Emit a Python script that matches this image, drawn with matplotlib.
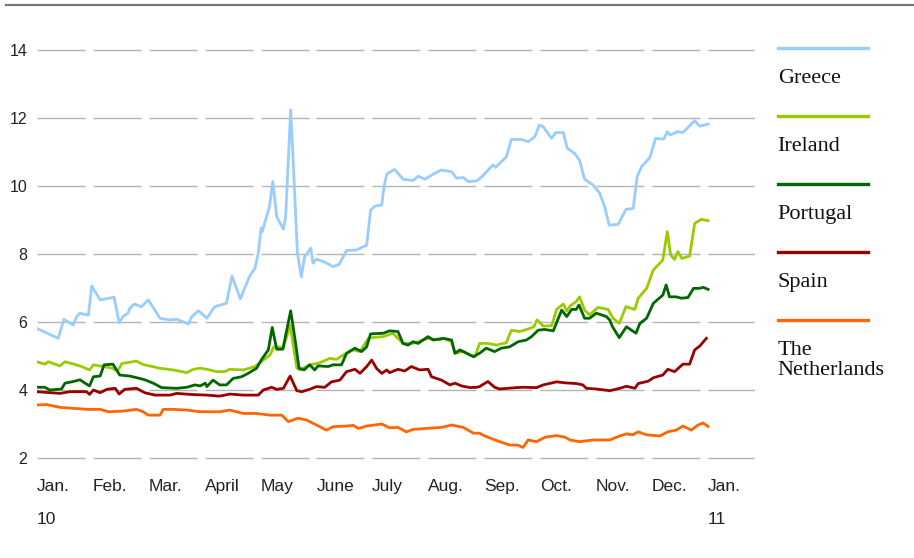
import matplotlib.pyplot as plt
from matplotlib.lines import Line2D

# x positions are fractional months since 1 Jan 2010, values are yields in %
greece_x = [0.00, 0.38, 0.48, 0.65, 0.71, 0.77, 0.92, 0.98, 1.13, 1.23, 1.38, 1.47, 1.54, 1.63, 1.66, 1.74,
            1.87, 1.99, 2.09, 2.20, 2.38, 2.50, 2.58, 2.71, 2.77, 2.89, 2.98, 3.04, 3.18, 3.39, 3.49, 3.64,
            3.80, 3.90, 3.96, 4.01, 4.03, 4.16, 4.22, 4.29, 4.41, 4.45, 4.54, 4.59, 4.66, 4.73, 4.79, 4.90,
            4.94, 5.00, 5.15, 5.30, 5.41, 5.54, 5.72, 5.90, 5.97, 6.05, 6.17, 6.21, 6.26, 6.40, 6.55, 6.73,
            6.82, 6.94, 7.03, 7.23, 7.42, 7.51, 7.63, 7.72, 7.87, 7.96, 8.16, 8.21, 8.40, 8.49, 8.67, 8.79,
            8.91, 8.99, 9.06, 9.21, 9.28, 9.42, 9.49, 9.62, 9.71, 9.80, 9.95, 10.07, 10.16, 10.24, 10.40,
            10.54, 10.67, 10.74, 10.82, 10.97, 11.07, 11.22, 11.28, 11.33, 11.47, 11.56, 11.77, 11.86, 12.01]
greece_y = [5.81, 5.52, 6.08, 5.91, 6.16, 6.26, 6.20, 7.06, 6.65, 6.68, 6.73, 5.98, 6.16, 6.26, 6.40, 6.53,
            6.45, 6.65, 6.40, 6.11, 6.06, 6.08, 6.03, 5.94, 6.16, 6.33, 6.20, 6.11, 6.45, 6.55, 7.35, 6.68,
            7.33, 7.58, 8.02, 8.76, 8.66, 9.39, 10.13, 9.10, 8.73, 9.10, 12.24, 10.57, 8.02, 7.33, 7.92, 8.17,
            7.73, 7.85, 7.76, 7.63, 7.70, 8.10, 8.12, 8.26, 9.29, 9.41, 9.44, 9.98, 10.35, 10.49, 10.20, 10.16,
            10.29, 10.20, 10.29, 10.47, 10.42, 10.23, 10.25, 10.13, 10.15, 10.27, 10.62, 10.55, 10.86, 11.37,
            11.37, 11.30, 11.45, 11.79, 11.74, 11.40, 11.57, 11.57, 11.11, 10.96, 10.76, 10.20, 10.03, 9.79,
            9.39, 8.85, 8.87, 9.31, 9.34, 10.27, 10.57, 10.84, 11.40, 11.38, 11.60, 11.50, 11.60, 11.57,
            11.92, 11.76, 11.82]

ireland_x = [0.00, 0.14, 0.20, 0.41, 0.50, 0.62, 0.80, 0.94, 1.01, 1.19, 1.35, 1.44, 1.52, 1.78, 1.90, 2.20,
             2.44, 2.68, 2.80, 2.92, 3.04, 3.21, 3.36, 3.45, 3.69, 3.90, 4.05, 4.17, 4.24, 4.41, 4.53, 4.65,
             4.70, 4.88, 5.06, 5.24, 5.36, 5.48, 5.66, 5.78, 5.93, 6.05, 6.20, 6.37, 6.55, 6.73, 7.00, 7.21,
             7.27, 7.42, 7.48, 7.63, 7.75, 7.84, 7.92, 8.07, 8.22, 8.40, 8.49, 8.64, 8.82, 8.89, 8.95, 9.06,
             9.21, 9.30, 9.42, 9.48, 9.54, 9.65, 9.71, 9.80, 9.89, 10.04, 10.22, 10.31, 10.42, 10.54, 10.70,
             10.76, 10.91, 11.03, 11.20, 11.28, 11.34, 11.41, 11.47, 11.54, 11.68, 11.77, 11.89, 12.01]
ireland_y = [4.83, 4.76, 4.83, 4.71, 4.83, 4.78, 4.69, 4.59, 4.74, 4.69, 4.64, 4.55, 4.78, 4.85, 4.75, 4.64,
             4.59, 4.51, 4.61, 4.64, 4.61, 4.54, 4.54, 4.61, 4.59, 4.69, 4.88, 5.03, 5.27, 5.25, 5.91, 4.65,
             4.59, 4.74, 4.80, 4.93, 4.90, 5.03, 5.18, 5.13, 5.52, 5.55, 5.57, 5.67, 5.37, 5.37, 5.52, 5.47,
             5.52, 5.42, 5.08, 5.13, 5.03, 4.98, 5.37, 5.37, 5.32, 5.39, 5.76, 5.72, 5.81, 5.86, 6.06, 5.88,
             5.89, 6.37, 6.53, 6.32, 6.47, 6.60, 6.74, 6.35, 6.21, 6.43, 6.37, 6.11, 5.96, 6.45, 6.37,
             6.70, 6.99, 7.53, 7.82, 8.66, 7.97, 7.84, 8.07, 7.87, 7.94, 8.90, 9.02, 8.98]

portugal_x = [0.00, 0.14, 0.23, 0.44, 0.50, 0.65, 0.77, 0.86, 0.94, 1.01, 1.13, 1.20, 1.36, 1.48, 1.66, 1.84,
              1.93, 2.08, 2.23, 2.50, 2.68, 2.83, 2.92, 3.01, 3.04, 3.15, 3.27, 3.39, 3.51, 3.66, 3.78, 3.93,
              4.02, 4.14, 4.21, 4.29, 4.40, 4.54, 4.62, 4.69, 4.78, 4.88, 4.97, 5.03, 5.21, 5.30, 5.45, 5.54,
              5.69, 5.81, 5.90, 5.97, 6.20, 6.31, 6.46, 6.55, 6.64, 6.73, 6.82, 7.00, 7.09, 7.27, 7.42, 7.48,
              7.57, 7.69, 7.81, 7.92, 8.04, 8.19, 8.31, 8.46, 8.61, 8.76, 8.85, 8.97, 9.09, 9.24, 9.39, 9.48,
              9.57, 9.65, 9.70, 9.80, 9.89, 10.01, 10.19, 10.25, 10.30, 10.42, 10.55, 10.72, 10.79, 10.91,
              11.03, 11.20, 11.26, 11.32, 11.44, 11.53, 11.65, 11.75, 11.86, 11.92, 12.01]
portugal_y = [4.08, 4.08, 4.00, 4.03, 4.20, 4.25, 4.30, 4.20, 4.12, 4.39, 4.41, 4.74, 4.76, 4.44, 4.41, 4.34,
              4.30, 4.20, 4.07, 4.05, 4.08, 4.15, 4.12, 4.20, 4.10, 4.29, 4.15, 4.15, 4.34, 4.39, 4.49, 4.64,
              4.90, 5.18, 5.84, 5.20, 5.20, 6.33, 5.47, 4.64, 4.59, 4.74, 4.59, 4.71, 4.69, 4.74, 4.74, 5.08,
              5.23, 5.13, 5.27, 5.65, 5.67, 5.74, 5.72, 5.37, 5.32, 5.42, 5.37, 5.57, 5.47, 5.52, 5.47, 5.08,
              5.18, 5.08, 4.98, 5.08, 5.23, 5.13, 5.23, 5.27, 5.42, 5.47, 5.57, 5.76, 5.78, 5.74, 6.35, 6.16,
              6.37, 6.37, 6.50, 6.11, 6.11, 6.26, 6.16, 6.06, 5.86, 5.54, 5.86, 5.67, 5.96, 6.11,
              6.55, 6.79, 7.09, 6.74, 6.74, 6.70, 6.72, 6.99, 6.99, 7.02, 6.96]

spain_x = [0.00, 0.41, 0.59, 0.89, 0.94, 1.01, 1.13, 1.25, 1.40, 1.47, 1.57, 1.78, 1.93, 2.11, 2.38, 2.50,
           2.74, 3.04, 3.27, 3.45, 3.69, 3.96, 4.05, 4.20, 4.29, 4.41, 4.53, 4.65, 4.74, 4.88, 5.00, 5.15,
           5.27, 5.42, 5.54, 5.69, 5.78, 5.90, 5.99, 6.08, 6.17, 6.26, 6.31, 6.46, 6.58, 6.70, 6.85, 7.00,
           7.06, 7.24, 7.39, 7.48, 7.60, 7.75, 7.87, 7.92, 8.07, 8.19, 8.28, 8.58, 8.70, 8.94, 9.06, 9.30,
           9.45, 9.65, 9.77, 9.83, 10.01, 10.25, 10.43, 10.55, 10.70, 10.76, 10.94, 11.03, 11.20, 11.29,
           11.41, 11.56, 11.68, 11.77, 11.86, 11.98]
spain_y = [3.95, 3.90, 3.95, 3.95, 3.87, 4.00, 3.92, 4.02, 4.05, 3.88, 4.02, 4.05, 3.92, 3.85, 3.85, 3.90,
           3.87, 3.85, 3.82, 3.88, 3.85, 3.85, 4.00, 4.08, 4.02, 4.05, 4.41, 3.98, 3.95, 4.02, 4.10, 4.08,
           4.24, 4.29, 4.54, 4.61, 4.49, 4.69, 4.88, 4.63, 4.49, 4.59, 4.51, 4.61, 4.56, 4.69, 4.59, 4.61,
           4.39, 4.29, 4.15, 4.20, 4.12, 4.07, 4.08, 4.10, 4.25, 4.08, 4.03, 4.07, 4.08, 4.07, 4.15, 4.24,
           4.21, 4.19, 4.15, 4.05, 4.03, 3.98, 4.05, 4.11, 4.05, 4.19, 4.26, 4.36, 4.44, 4.61,
           4.54, 4.76, 4.76, 5.18, 5.29, 5.52]

nl_x = [0.00, 0.17, 0.41, 0.65, 0.92, 1.13, 1.28, 1.54, 1.78, 1.90, 1.99, 2.20, 2.26, 2.44, 2.68, 2.92,
        3.27, 3.45, 3.69, 3.93, 4.17, 4.38, 4.50, 4.67, 4.82, 5.06, 5.18, 5.30, 5.54, 5.66, 5.75, 5.90,
        6.17, 6.31, 6.46, 6.61, 6.73, 6.97, 7.24, 7.42, 7.63, 7.81, 7.92, 8.01, 8.28, 8.46, 8.60, 8.70,
        8.79, 8.94, 9.09, 9.30, 9.45, 9.54, 9.71, 9.95, 10.25, 10.43, 10.55, 10.66, 10.76, 10.91, 11.15,
        11.29, 11.44, 11.56, 11.71, 11.83, 11.92, 12.01]
nl_y = [3.56, 3.57, 3.49, 3.46, 3.43, 3.43, 3.36, 3.38, 3.43, 3.36, 3.26, 3.26, 3.43, 3.43, 3.41, 3.36,
        3.36, 3.41, 3.31, 3.31, 3.26, 3.26, 3.07, 3.17, 3.12, 2.92, 2.82, 2.92, 2.94, 2.96, 2.87, 2.94,
        3.00, 2.89, 2.90, 2.77, 2.84, 2.87, 2.90, 2.97, 2.90, 2.73, 2.73, 2.65, 2.48, 2.38, 2.38, 2.31,
        2.53, 2.48, 2.61, 2.66, 2.61, 2.53, 2.48, 2.53, 2.53, 2.65, 2.71, 2.68, 2.77, 2.68, 2.65,
        2.77, 2.82, 2.94, 2.82, 2.97, 3.03, 2.93]

countries = ['Greece', 'Ireland', 'Portugal', 'Spain', 'The\nNetherlands']
colors = ['#99ccff', '#99cc00', '#006600', '#990000', '#ff6600']
months = ['Jan.', 'Feb.', 'Mar.', 'April', 'May', 'June', 'July', 'Aug.', 'Sep.', 'Oct.', 'Nov.', 'Dec.', 'Jan.']
years = ['10', '11']
yticks = [2, 4, 6, 8, 10, 12, 14]

series = [(greece_x, greece_y), (ireland_x, ireland_y), (portugal_x, portugal_y),
          (spain_x, spain_y), (nl_x, nl_y)]

fig = plt.figure(figsize=(9.14, 5.58), dpi=100)
ax = fig.add_axes([37 / 914, 1 - 485.2 / 558, (755 - 37) / 914, (485.2 - 29.6) / 558])
ax.set_xlim(0, 12.85)
ax.set_ylim(1.2, 14.6)
for s in ax.spines.values():
    s.set_visible(False)
ax.set_xticks([])
ax.set_yticks(yticks)
ax.set_yticklabels([str(v) for v in yticks], fontsize=11.5, family='Liberation Sans', color='#222222')
ax.tick_params(axis='y', length=0, pad=7)

# gridlines are broken into one segment per month
for m in range(len(months)):
    ax.hlines(yticks, m, m + 0.86, color='#b5b5b5', lw=1, zorder=1)

for (xs, ys), c in zip(series, colors):
    ax.plot(xs, ys, color=c, lw=2.0, zorder=3, solid_joinstyle='round')

for i, m in enumerate(months):
    ax.text(i, 1.15, m, fontsize=12.5, family='Liberation Sans', color='#222222',
            ha='left', va='center', clip_on=False)
ax.text(0, 0.18, years[0], fontsize=12.5, family='Liberation Sans', color='#222222', ha='left', va='center')
ax.text(12, 0.18, years[1], fontsize=12.5, family='Liberation Sans', color='#222222', ha='left', va='center')

# legend on the right, each swatch sits on a gridline level
leg_x0 = (778 - 37) / 55.9
leg_x1 = (868 - 37) / 55.9
for i, (name, c) in enumerate(zip(countries, colors)):
    lvl = yticks[-1] - 2 * i
    ax.plot([leg_x0, leg_x1], [lvl + 0.05, lvl + 0.05], color=c, lw=2.4, clip_on=False)
    ax.text(leg_x0, lvl - 0.55, name, fontsize=16, family='Liberation Serif', color='#111111',
            ha='left', va='top', linespacing=1.1, clip_on=False)

fig.add_artist(Line2D([6 / 914, 1], [1 - 5 / 558, 1 - 5 / 558], color='#777777', lw=1.6))

fig.savefig('out.png', dpi=100)
